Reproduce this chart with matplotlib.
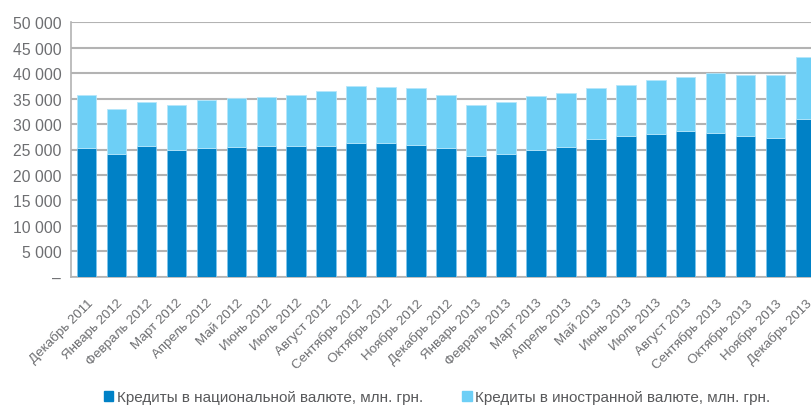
import numpy as np
import matplotlib
matplotlib.use('Agg')
import matplotlib.pyplot as plt
from matplotlib.patches import Patch

plt.rcParams['font.family'] = ['Liberation Sans', 'DejaVu Sans']

# данные (млн. грн.)
months = ['Декабрь 2011', 'Январь 2012', 'Февраль 2012', 'Март 2012', 'Апрель 2012',
          'Май 2012', 'Июнь 2012', 'Июль 2012', 'Август 2012', 'Сентябрь 2012',
          'Октябрь 2012', 'Ноябрь 2012', 'Декабрь 2012', 'Январь 2013', 'Февраль 2013',
          'Март 2013', 'Апрель 2013', 'Май 2013', 'Июнь 2013', 'Июль 2013',
          'Август 2013', 'Сентябрь 2013', 'Октябрь 2013', 'Ноябрь 2013', 'Декабрь 2013']
national = [25300, 24200, 25750, 24850, 25350, 25550, 25750, 25650, 25750, 26350,
            26350, 25950, 25300, 23700, 24200, 24900, 25550, 27000, 27700, 28100,
            28550, 28300, 27700, 27300, 31050]
total = [35800, 32900, 34350, 33750, 34750, 35100, 35350, 35750, 36400, 37500,
         37300, 37150, 35800, 33700, 34350, 35600, 36150, 37150, 37750, 38650,
         39250, 39950, 39650, 39600, 43100]
foreign = [t - n for t, n in zip(total, national)]

yticks = list(range(0, 50001, 5000))
ylabels = ['–'] + [f'{v // 1000} 000' for v in yticks[1:]]

dark = '#0081c6'
light = '#6dcff6'
gray_txt = '#6d6e71'

fig = plt.figure(figsize=(8.11, 4.10), dpi=100)
ax = fig.add_axes([71 / 811, 132.3 / 410, 740 / 811, 254.4 / 410])

x = np.arange(len(months))
w = 0.65
ax.bar(x, national, width=w, color=dark, edgecolor='#7fc6ec', linewidth=0.6, zorder=3)
ax.bar(x, foreign, bottom=national, width=w, color=light, edgecolor='#b5e6fa',
       linewidth=0.6, zorder=3)

ax.set_xlim(-0.517, 24.18)
ax.set_ylim(0, 50000)
ax.set_yticks(yticks)
ax.set_yticklabels(ylabels, fontsize=11.3, color=gray_txt)
ax.yaxis.grid(True, color='#b3b3b3', linewidth=1.5, zorder=0)
ax.tick_params(axis='y', length=0, pad=7)
ax.tick_params(axis='x', length=0, pad=14)

ax.set_xticks(x)
ax.set_xticklabels(months, rotation=45, ha='right', rotation_mode='anchor',
                   fontsize=9.6, color=gray_txt)

for s in ['top', 'right']:
    ax.spines[s].set_visible(False)
for s in ['left', 'bottom']:
    ax.spines[s].set_color('#b3b3b3')
    ax.spines[s].set_linewidth(1.2)

handles = [Patch(color=dark, label='Кредиты в национальной валюте, млн. грн.'),
           Patch(color=light, label='Кредиты в иностранной валюте, млн. грн.')]
fig.legend(handles=handles, loc='lower center', bbox_to_anchor=(0.539, -0.022), ncol=2,
           frameon=False, fontsize=11, handlelength=0.6, handleheight=0.6,
           handletextpad=0.25, columnspacing=2.6, labelcolor='#58595b')

fig.savefig('out.png', dpi=100)
